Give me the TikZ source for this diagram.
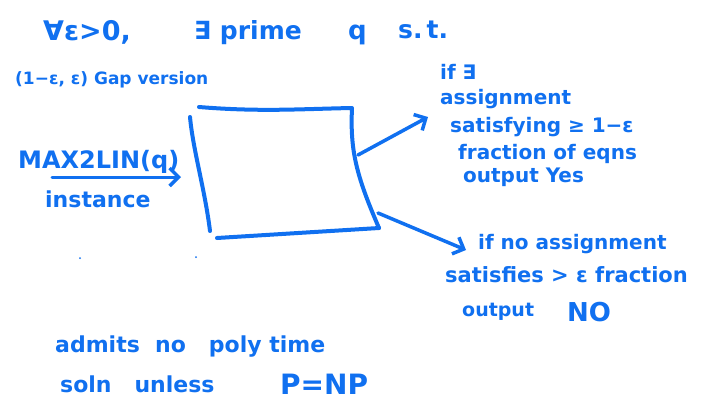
\documentclass[tikz,border=0pt]{standalone}
\usepackage{fontspec}
\setmainfont{DejaVu Sans}
\usetikzlibrary{arrows.meta}
\definecolor{ink}{RGB}{16,112,240}
\tikzset{
  txt/.style={anchor=west, inner sep=0pt, text=ink, font=\fontsize{#1}{#1}\selectfont\bfseries},
  txt/.default=20,
  pen/.style={draw=ink, line width=4pt, line cap=round, line join=round},
  arr/.style={pen, line width=3.5pt, -{Straight Barb[length=9pt,width=18pt,line width=3.5pt]}}
}
\begin{document}
\begin{tikzpicture}[x=1pt,y=-1pt]
\useasboundingbox[fill=white] (0,0) rectangle (703,413);
% title
\node[txt=27] (t1) at (43,32) {∀ε>0,};
\node[txt=25] (t2) at (194,33) {∃ prime};
\node[txt=26] (t3) at (348,35) {q};
\node[txt=25] (t4) at (398,30) {s.\,t.};
\node[txt=17] (gap) at (15,80) {(1−ε, ε) Gap version};
% box
\coordinate (tl) at (199,107);
\coordinate (tr) at (352,108);
\coordinate (br) at (379,228);
\coordinate (bl) at (217,238);
\coordinate (tl2) at (190,117);
\coordinate (bl2) at (210,231);
\draw[pen] (tl) .. controls (260,112) and (300,109) .. (tr)
  .. controls (350,150) and (356,175) .. (br);
\draw[pen] (tl2) .. controls (193,150) and (205,190) .. (bl2);
\draw[pen] (bl) -- (br);
% input
\node[txt=24] (mx) at (18,162) {MAX2LIN(q)};
\node[txt=22] (inst) at (45,199) {instance};
\coordinate (in0) at (52,177);
\coordinate (in1) at (181,177);
\draw[arr, line width=3pt] (in0) -- (in1);
% dots
\fill[ink] (80,258) circle (1pt);
\fill[ink] (196,257) circle (1pt);
% upper output
\coordinate (o1s) at (358,155);
\coordinate (o1e) at (428,117);
\draw[arr] (o1s) -- (o1e);
\node[txt=20] (u1) at (440,72) {if ∃};
\node[txt=20] (u2) at (440,99) {assignment};
\node[txt=20] (u3) at (450,127) {satisfying ≥ 1−ε};
\node[txt=20] (u4) at (458,154) {fraction of eqns};
\node[txt=20] (u5) at (463,177) {output Yes};
% lower output
\coordinate (o2s) at (378,213);
\coordinate (o2e) at (466,250);
\draw[arr] (o2s) -- (o2e);
\node[txt=20] (l1) at (478,244) {if no assignment};
\node[txt=21] (l2) at (445,275) {satisfies > ε fraction};
\node[txt=19] (l3) at (462,312) {output};
\node[txt=26] (l4) at (567,312) {NO};
% bottom
\node[txt=22] (b1) at (55,347) {admits\ \ no\ \ \ poly time};
\node[txt=22] (b2) at (60,384) {soln\ \ \ unless};
\node[txt=28] (b3) at (280,384) {P=NP};
\end{tikzpicture}
\end{document}
